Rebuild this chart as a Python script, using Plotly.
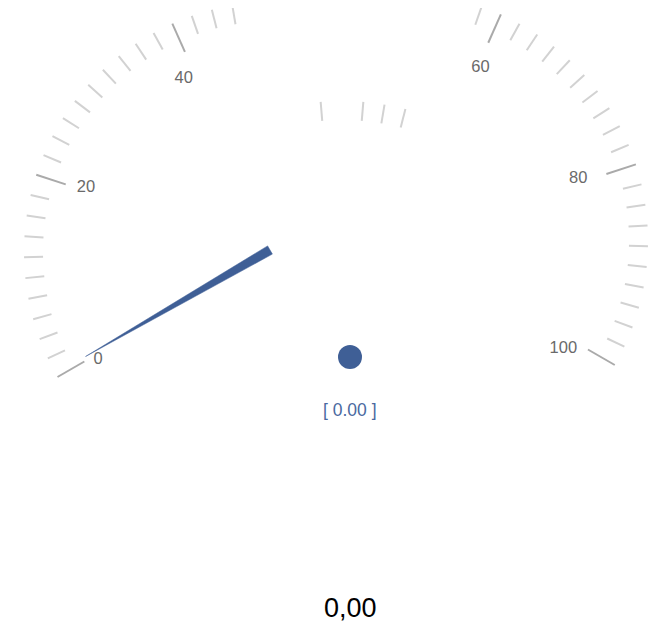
import math
import plotly.graph_objects as go

# ---- data ----
value = 0.0
gauge_min = 0
gauge_max = 100
left_ticks = [0, 2, 4, 6, 8, 10, 12, 14, 16, 18, 20, 22, 24, 26, 28, 30, 32, 34, 36, 38, 40, 42, 44, 46]
mid_ticks = [48, 52, 54, 56]
right_ticks = [58, 60, 62, 64, 66, 68, 70, 72, 74, 76, 78, 80, 82, 84, 86, 88, 90, 92, 94, 96, 98, 100]
major_ticks = [0, 20, 40, 60, 80, 100]
left_labels = ["0", "20", "40"]
right_labels = ["60", "80", "100"]

# ---- geometry / style ----
W, H = 661, 629
OFF = 8  # page body margin of the html page
START, END = 210.0, -30.0
LEFT_C = (274.0, 252.0)
MID_C = (342.0, 356.0)
RIGHT_C = (400.0, 241.0)
R_LEFT, R_MID, R_RIGHT = 250.0, 255.0, 248.0
MINOR_LEN, MAJOR_LEN = 19.0, 31.0
LABEL_INSET = 41.0
LABEL_SIZE = 16.5
LABEL_NUDGE = {"0": (1, 6), "20": (2, -1), "40": (-9, 12), "60": (0, 11), "80": (-10, 0), "100": (-4, 7)}
DOT_C = (350.0, 357.0)
PIVOT = (270.0, 250.0)
NEEDLE_LEN = 213.0
NEEDLE_W = 9.5
BLUE = "#3f5f96"


def ang(v):
    return math.radians(START + (END - START) * (v - gauge_min) / (gauge_max - gauge_min))


def pt(c, r, a):
    return c[0] + r * math.cos(a), c[1] - r * math.sin(a)


fig = go.Figure()

for major in (False, True):
    xs, ys = [], []
    for ticks, c, r in ((left_ticks, LEFT_C, R_LEFT), (mid_ticks, MID_C, R_MID), (right_ticks, RIGHT_C, R_RIGHT)):
        for v in ticks:
            if (v in major_ticks) != major:
                continue
            a = ang(v)
            ln = MAJOR_LEN if major else MINOR_LEN
            x0, y0 = pt(c, r, a)
            x1, y1 = pt(c, r - ln, a)
            xs += [x0, x1, None]
            ys += [y0, y1, None]
    fig.add_trace(go.Scatter(x=xs, y=ys, mode="lines",
                             line=dict(color="#aaaaaa" if major else "#d2d2d2", width=2),
                             hoverinfo="skip", showlegend=False))

# labels: anchor inside the tick ring, shifted inward by half the text box
lx, ly, lt = [], [], []
for labels, c, r in ((left_labels, LEFT_C, R_LEFT), (right_labels, RIGHT_C, R_RIGHT)):
    for s in labels:
        a = ang(float(s))
        x, y = pt(c, r - LABEL_INSET, a)
        hw = 0.556 * LABEL_SIZE * len(s) / 2
        hh = 0.36 * LABEL_SIZE
        x -= hw * math.cos(a)
        y += hh * math.sin(a)
        nx, ny = LABEL_NUDGE[s]
        lx.append(x + nx); ly.append(y + ny); lt.append(s)
fig.add_trace(go.Scatter(x=lx, y=ly, text=lt, mode="text", textposition="middle center",
                         textfont=dict(family="Liberation Sans, Arial", size=LABEL_SIZE, color="#6a6a6a"),
                         hoverinfo="skip", showlegend=False))

# needle
a = ang(value)
tip = pt(PIVOT, NEEDLE_LEN, a)
px, py = -math.sin(a), -math.cos(a)
b1 = (PIVOT[0] + px * NEEDLE_W / 2, PIVOT[1] + py * NEEDLE_W / 2)
b2 = (PIVOT[0] - px * NEEDLE_W / 2, PIVOT[1] - py * NEEDLE_W / 2)
fig.add_trace(go.Scatter(x=[b1[0], tip[0], b2[0], b1[0]], y=[b1[1], tip[1], b2[1], b1[1]],
                         mode="lines", fill="toself", fillcolor=BLUE, line=dict(color=BLUE, width=0.5),
                         hoverinfo="skip", showlegend=False))

# center dot
fig.add_trace(go.Scatter(x=[DOT_C[0]], y=[DOT_C[1]], mode="markers",
                         marker=dict(size=24, color=BLUE), hoverinfo="skip", showlegend=False))

fig.add_annotation(x=350, y=410, text=f"[ {value:.2f} ]", showarrow=False,
                   font=dict(family="Liberation Sans, Arial", size=17.5, color="#4a69a0"))
fig.add_annotation(x=350, y=608, text=f"{value:.2f}".replace(".", ","), showarrow=False,
                   font=dict(family="Liberation Sans, Arial", size=27, color="#000000"))

fig.update_layout(width=W, height=H, margin=dict(l=0, r=0, t=0, b=0),
                  paper_bgcolor="white", plot_bgcolor="white",
                  xaxis=dict(range=[OFF, W + OFF], visible=False, fixedrange=True),
                  yaxis=dict(range=[H + OFF, OFF], visible=False, fixedrange=True))

fig.write_html("out.html", config={"displayModeBar": False})
